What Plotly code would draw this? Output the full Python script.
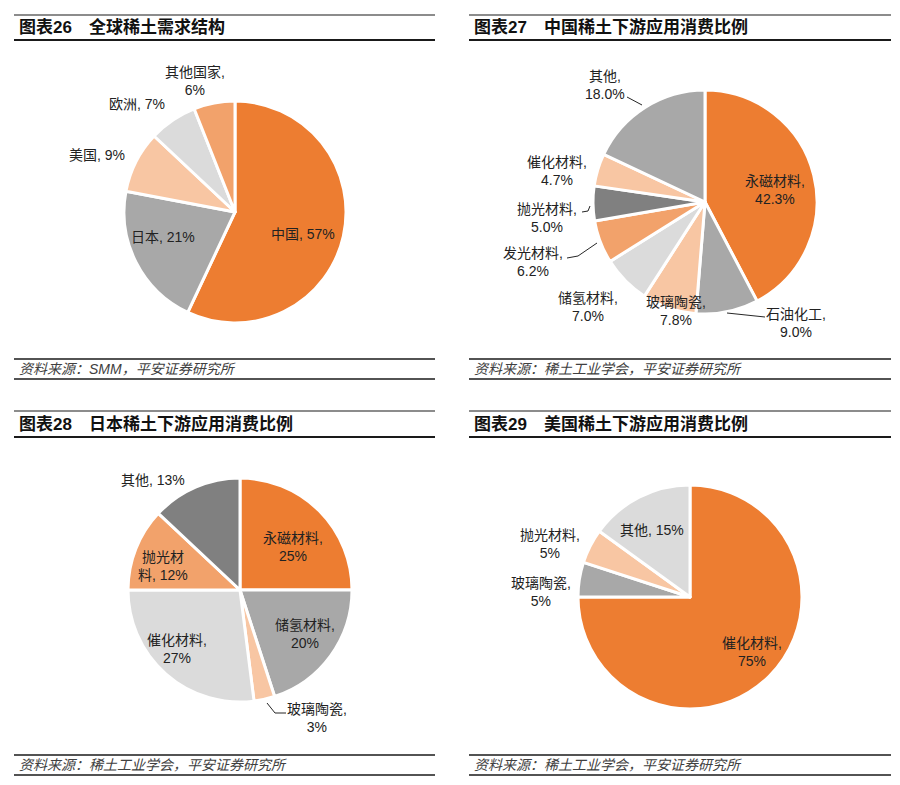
import plotly.graph_objects as go

# data
world_names = ['中国', '日本', '美国', '欧洲', '其他国家']
world_vals = [57, 21, 9, 7, 6]

cn_names = ['永磁材料', '石油化工', '玻璃陶瓷', '储氢材料', '发光材料', '抛光材料', '催化材料', '其他']
cn_vals = [42.3, 9.0, 7.8, 7.0, 6.2, 5.0, 4.7, 18.0]

jp_names = ['永磁材料', '储氢材料', '玻璃陶瓷', '催化材料', '抛光材料', '其他']
jp_vals = [25, 20, 3, 27, 12, 13]

us_names = ['催化材料', '玻璃陶瓷', '抛光材料', '其他']
us_vals = [75, 5, 5, 15]

titles = ['图表26　全球稀土需求结构', '图表27　中国稀土下游应用消费比例',
          '图表28　日本稀土下游应用消费比例', '图表29　美国稀土下游应用消费比例']
sources = ['资料来源：SMM，平安证券研究所', '资料来源：稀土工业学会，平安证券研究所',
           '资料来源：稀土工业学会，平安证券研究所', '资料来源：稀土工业学会，平安证券研究所']

W, H = 900, 785
OR = '#ED7D31'
OR2 = '#F2A26B'
OR3 = '#F8C6A3'
GR = '#A8A8A8'
GR2 = '#DBDBDB'
GR3 = '#808080'
FONT = 'Liberation Sans, Arial, Noto Sans CJK SC, sans-serif'


def px(x):
    return x / W


def py(y):
    return 1 - y / H


def label(name, val, fmt, dec):
    v = f'{val:.{dec}f}%'
    if fmt == 'one':
        return f'{name}, {v}'
    if fmt == 'two':
        return f'{name},<br>{v}'
    # split the name at index fmt
    return f'{name[:fmt]}<br>{name[fmt:]}, {v}'


fig = go.Figure()
annotations = []
shapes = []

panels = [
    # names, vals, colors, center, radius, decimals, label positions, formats
    (world_names, world_vals, [OR, GR, OR3, GR2, OR2], (235, 212), 111, 0,
     [(303, 234), (163, 237), (97, 155), (137, 104), (195, 81)],
     ['one', 'one', 'one', 'one', 'two']),
    (cn_names, cn_vals, [OR, GR, OR3, GR2, OR2, GR3, OR3, GR], (705, 202), 112, 1,
     [(775, 190), (796, 323), (676, 311), (588, 307), (533, 262), (547, 218), (557, 171), (605, 85)],
     ['two'] * 8),
    (jp_names, jp_vals, [OR, GR, OR3, GR2, OR2, GR3], (240, 590), 112, 0,
     [(293, 547), (305, 634), (317, 718), (177, 649), (163, 566), (153, 480)],
     ['two', 'two', 'two', 'two', 3, 'one']),
    (us_names, us_vals, [OR, GR, OR3, GR2], (690, 597), 112, 0,
     [(752, 652), (541, 592), (550, 544), (652, 530)],
     ['two', 'two', 'two', 'one']),
]

for names, vals, colors, (cx, cy), r, dec, pos, fmts in panels:
    fig.add_trace(go.Pie(
        labels=names, values=vals, sort=False, direction='clockwise', rotation=0,
        marker=dict(colors=colors, line=dict(color='white', width=3)),
        textinfo='none', hoverinfo='label+percent', showlegend=False,
        domain=dict(x=[px(cx - r), px(cx + r)], y=[py(cy + r), py(cy - r)]),
    ))
    for n, v, (lx, ly), f in zip(names, vals, pos, fmts):
        annotations.append(dict(
            x=px(lx), y=py(ly), xref='paper', yref='paper', showarrow=False,
            text=label(n, v, f, dec), xanchor='center', yanchor='middle',
            font=dict(size=14, color='#222222', family=FONT),
        ))

# title bars and source notes
boxes = [(14, 435, 15, 40, 359, 379), (469, 891, 15, 40, 359, 379),
         (14, 435, 411, 437, 755, 775), (469, 891, 411, 437, 755, 775)]
for (x0, x1, t0, t1, s0, s1), title, src in zip(boxes, titles, sources):
    for y, w in [(t0, 1.2), (t1, 2), (s0, 1.5), (s1, 1.5)]:
        shapes.append(dict(type='line', xref='paper', yref='paper',
                           x0=px(x0), x1=px(x1), y0=py(y), y1=py(y),
                           line=dict(color='#1a1a1a', width=w)))
    annotations.append(dict(
        x=px(x0 + 3), y=py((t0 + t1) / 2), xref='paper', yref='paper', showarrow=False,
        text=f'<b>{title}</b>', xanchor='left', yanchor='middle',
        font=dict(size=17, color='#111111', family=FONT),
    ))
    annotations.append(dict(
        x=px(x0 + 3), y=py((s0 + s1) / 2), xref='paper', yref='paper', showarrow=False,
        text=f'<i>{src}</i>', xanchor='left', yanchor='middle',
        font=dict(size=14, color='#404040', family=FONT),
    ))

# leader lines
leaders = [
    [(627, 97), (642, 105)],
    [(582, 212), (588, 211), (590, 206)],
    [(567, 258), (578, 256), (597, 243)],
    [(727, 313), (765, 317)],
    [(267, 703), (275, 713), (286, 713)],
]
for pts in leaders:
    path = 'M ' + ' L '.join(f'{px(x)} {py(y)}' for x, y in pts)
    shapes.append(dict(type='path', xref='paper', yref='paper', path=path,
                       line=dict(color='#262626', width=1)))

fig.update_layout(
    width=W, height=H, margin=dict(l=0, r=0, t=0, b=0),
    paper_bgcolor='white', plot_bgcolor='white',
    annotations=annotations, shapes=shapes,
)

fig.write_html('out.html', config={'displayModeBar': False},
               post_script="document.body.style.margin='0';")
